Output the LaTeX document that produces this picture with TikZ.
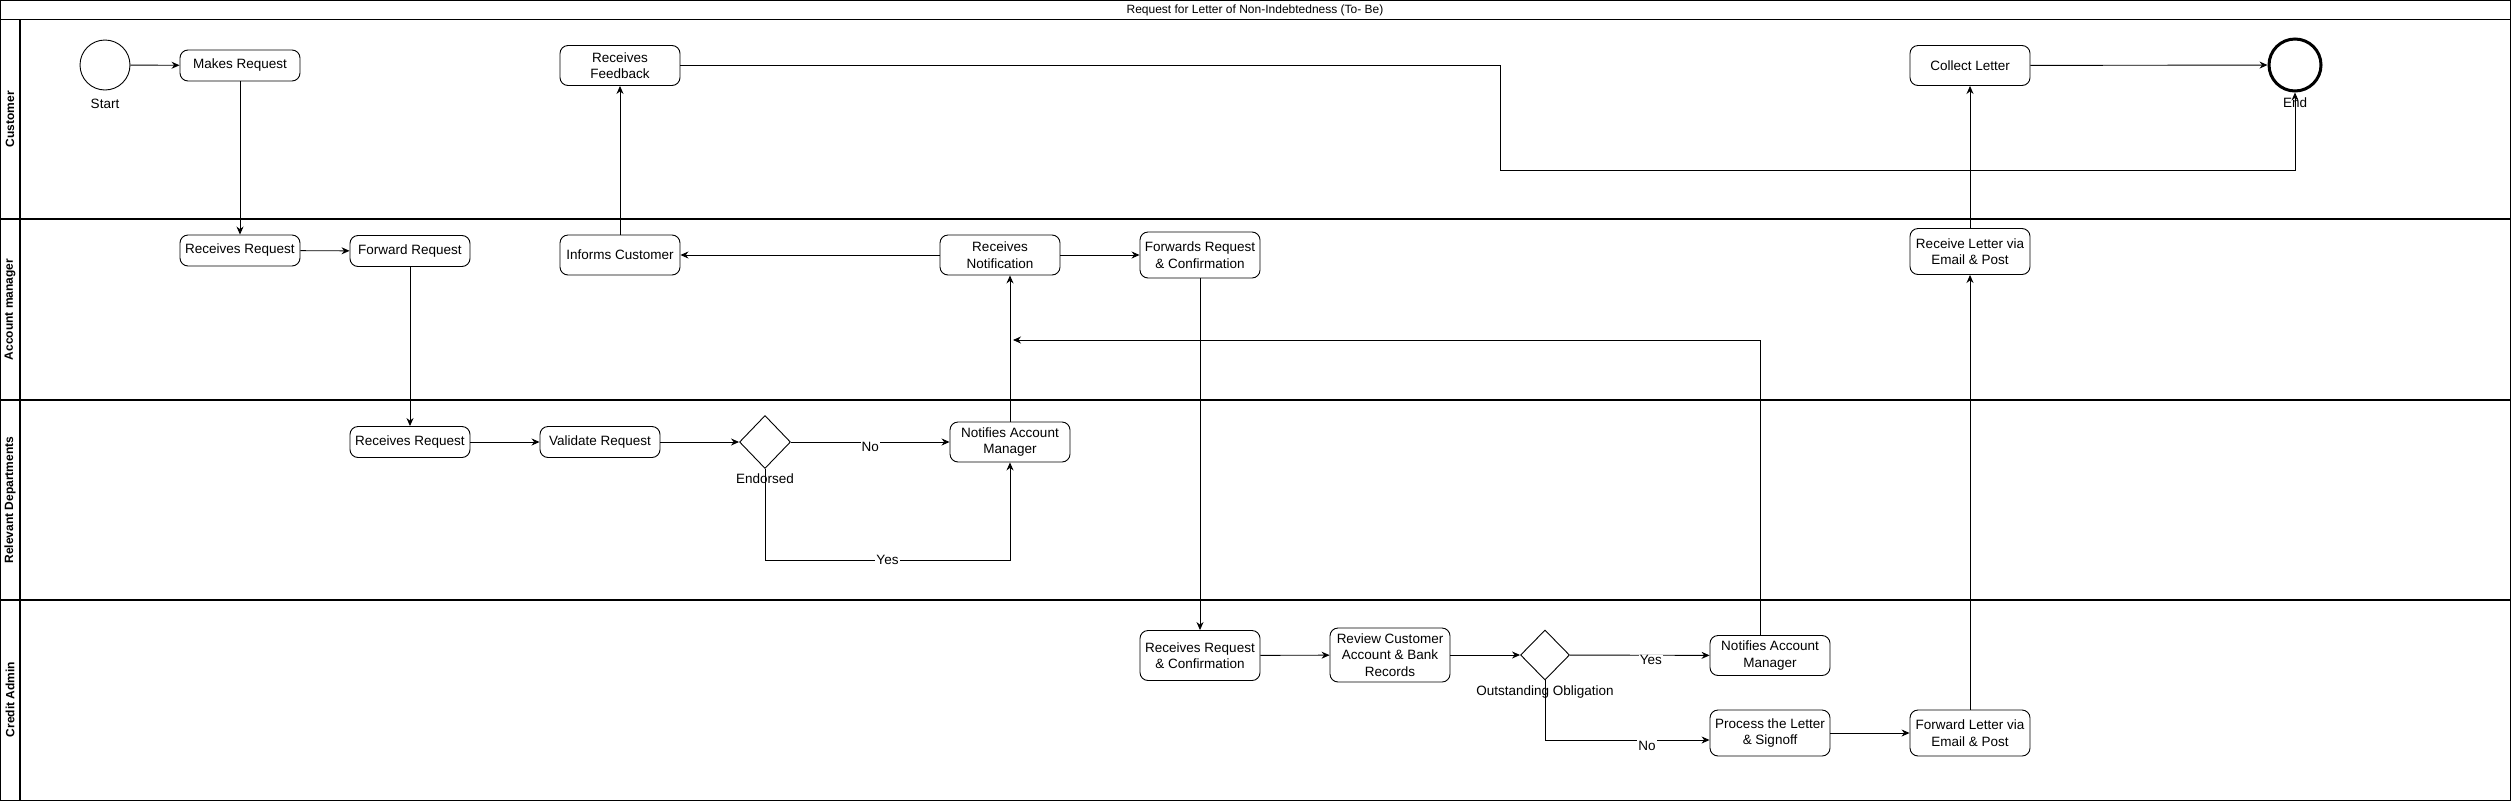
\documentclass[tikz,border=0pt]{standalone}
\usepackage{fontspec}
\setmainfont{Liberation Sans}
\usetikzlibrary{arrows.meta,shapes.geometric,positioning}

\newcommand{\boxfont}{\fontsize{13.5}{16.5}\selectfont}
\newcommand{\lanefont}{\bfseries\fontsize{12}{14}\selectfont}

\tikzset{
  lane/.style={line width=1.1pt},
  task/.style={draw, rounded corners=8pt, align=center, minimum width=120pt,
    minimum height=40pt, inner sep=1pt, font=\boxfont, line width=0.9pt},
  slim/.style={task, minimum height=31pt},
  tall/.style={task, minimum height=46pt},
  gate/.style={draw, diamond, minimum width=51pt, minimum height=53pt,
    inner sep=0pt, line width=0.9pt},
  event/.style={draw, circle, minimum size=50pt, inner sep=0pt, line width=0.9pt},
  caption/.style={font=\boxfont, inner sep=1pt},
  flow/.style={draw, line width=0.9pt, -{Stealth[length=8pt,width=7pt]}},
}

\begin{document}
\begin{tikzpicture}[x=1pt,y=-1pt]

      \useasboundingbox (0,0) rectangle (2511,801);

      \draw[lane] (0.55,0.55) rectangle (2510.45,800.45);
      \draw[lane] (0,19.5) -- (2511,19.5);
      \draw[lane] (20,19.5) -- (20,801);
      \draw[lane] (0,219) -- (2511,219);
      \draw[lane] (0,400) -- (2511,400);
      \draw[lane] (0,600) -- (2511,600);

      \node (title) at (1255,10) {\fontsize{12}{14}\selectfont Request for Letter of Non-Indebtedness (To- Be)};
      \node[rotate=90, font=\lanefont] (cust)   at (10,119)   {Customer};
      \node[rotate=90, font=\lanefont] (accmgr) at (10,309.5) {Account manager};
      \node[rotate=90, font=\lanefont] (reldep) at (10,500)   {Relevant Departments};
      \node[rotate=90, font=\lanefont] (cradm)  at (10,699.5) {Credit Admin};

      \node[event] (start) at (105,65) {};
      \node[caption, below=7pt of start] (startlbl) {Start};
      \node[event, minimum size=52pt, line width=3pt] (finish) at (2295,65) {};
      \node[caption, below=4pt of finish] (finlbl) {End};

      \begin{scope}[every node/.style=task]
        \node[slim] (mkreq)     at (240,65.5)   {Makes Request};
        \node       (rcvfb)     at (620,65.5)   {Receives\\Feedback};
        \node       (collect)   at (1970,65.5)  {Collect Letter};
        \node[slim] (amreq)     at (240,250.5)  {Receives Request};
        \node[slim] (fwdreq)    at (410,251)    {Forward Request};
        \node       (inform)    at (620,255)    {Informs Customer};
        \node       (rcvnote)   at (1000,255)   {Receives\\Notification};
        \node[tall] (fwdconf)   at (1200,255)   {Forwards Request\\\& Confirmation};
        \node[tall] (rcvletter) at (1970,251.5) {Receive Letter via\\Email \& Post};
        \node[slim] (rdreq)     at (410,442)    {Receives Request};
        \node[slim] (validate)  at (600,442)    {Validate Request};
        \node       (rdnotify)  at (1010,442)   {Notifies Account\\Manager};
        \node[tall, minimum height=50pt] (careq) at (1200,655.5) {Receives Request\\\& Confirmation};
        \node[tall, minimum height=54pt] (review) at (1390,655) {Review Customer\\Account \& Bank\\Records};
        \node       (canotify)  at (1770,655.5) {Notifies Account\\Manager};
        \node[tall] (process)   at (1770,733)   {Process the Letter\\\& Signoff};
        \node[tall] (fwdletter) at (1970,733)   {Forward Letter via\\Email \& Post};
      \end{scope}

      \node[gate] (endorsed) at (765,442) {};
      \node[caption, below=4pt of endorsed] (endorsedlbl) {Endorsed};
      \node[gate, minimum width=49pt, minimum height=50pt] (oblig) at (1545,655) {};
      \node[caption, below=4pt of oblig] (obliglbl) {Outstanding Obligation};

      \coordinate (fbturn) at (1500,65.5);
      \coordinate (fbdrop) at (1500,170);
      \coordinate (yesbend) at (765,560);
      \coordinate (nobend) at (1545,740);
      \coordinate (amjoin) at (1013,340);

      \begin{scope}[every node/.style={fill=white, font=\boxfont, inner sep=1pt}]

        \begin{scope}[every edge/.style={flow}]
          \path (start)     edge (mkreq);
          \path (mkreq)     edge (amreq);
          \path (amreq)     edge (fwdreq);
          \path (fwdreq)    edge (rdreq);
          \path (rdreq)     edge (validate);
          \path (validate)  edge (endorsed);
          \path (endorsed)  edge node[yshift=-5pt] {No} (rdnotify);
          \path (rdnotify)  edge (rdnotify |- rcvnote.south);
          \path (rcvnote)   edge (inform);
          \path (rcvnote)   edge (fwdconf);
          \path (inform)    edge (rcvfb);
          \path (fwdconf)   edge (careq);
          \path (careq)     edge (review);
          \path (review)    edge (oblig);
          \path (oblig)     edge node[pos=0.58, yshift=-5pt] {Yes} (canotify);
          \path (process)   edge (fwdletter);
          \path (fwdletter) edge (rcvletter);
          \path (rcvletter) edge (collect);
          \path (collect)   edge (finish);
        \end{scope}

        \draw[flow] (endorsed) -- (yesbend) -| node[pos=0.25] {Yes} (rdnotify);
        \draw[flow] (oblig) -- (nobend) -- node[pos=0.62, yshift=-6pt] {No} (nobend -| process.west);
        \draw[flow] ([xshift=-10pt]canotify.north) |- (amjoin);
        \draw[flow] (rcvfb) -- (fbturn) -- (fbdrop) -| (finish);
      \end{scope}

    \end{tikzpicture}
\end{document}
